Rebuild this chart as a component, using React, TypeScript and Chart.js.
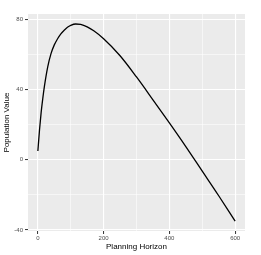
import React, { useEffect, useRef } from "react";
import { Chart, registerables } from "chart.js";

Chart.register(...registerables);

const horizon = [0, 5, 10, 15, 20, 30, 40, 50, 60, 70, 80, 90, 100, 115, 130, 150, 170, 200, 250, 300, 350, 400, 450, 500, 550, 600];
const popValue = [5, 17, 27, 35, 42, 53, 60.5, 65.5, 69, 71.8, 73.8, 75.5, 76.6, 77.4, 77.2, 75.8, 73.5, 69, 59.3, 47.2, 34.2, 21, 7.5, -6.5, -20.5, -35];

const xMajor = [0, 200, 400, 600];
const xMinor = [100, 300, 500];
const yMajor = [-40, 0, 40, 80];
const yMinor = [-20, 20, 60];

const xTitle = "Planning Horizon";
const yTitle = "Population Value";

const panelBg = {
  id: "panelBg",
  beforeDraw(chart: any) {
    const { ctx, chartArea } = chart;
    ctx.save();
    ctx.fillStyle = "#EBEBEB";
    ctx.fillRect(chartArea.left, chartArea.top, chartArea.right - chartArea.left, chartArea.bottom - chartArea.top);
    ctx.restore();
  },
};

function allTicks(major: number[], minor: number[]) {
  return [...major, ...minor].sort((a, b) => a - b).map((v) => ({ value: v }));
}

export default function App() {
  const ref = useRef<HTMLCanvasElement | null>(null);
  useEffect(() => {
    document.body.style.margin = "0";
    const ctx = ref.current!.getContext("2d")!;
    const isMajorX = (v: number) => xMajor.includes(v);
    const isMajorY = (v: number) => yMajor.includes(v);
    const chart = new Chart(ctx, {
      type: "line",
      data: {
        datasets: [
          {
            data: horizon.map((x, i) => ({ x, y: popValue[i] })),
            borderColor: "#000000",
            borderWidth: 1.3,
            pointRadius: 0,
            fill: false,
            cubicInterpolationMode: "monotone",
          },
        ],
      },
      options: {
        animation: false,
        responsive: false,
        plugins: { legend: { display: false }, tooltip: { enabled: false } },
        layout: { padding: { top: 14, right: 16, left: 0, bottom: 0 } },
        scales: {
          x: {
            type: "linear",
            min: -30,
            max: 630,
            afterBuildTicks: (s: any) => {
              s.ticks = allTicks(xMajor, xMinor);
            },
            afterFit: (s: any) => {
              s.height = 24;
            },
            border: { display: false },
            grid: {
              color: "#FFFFFF",
              lineWidth: (c: any) => (isMajorX(c.tick?.value) ? 1.1 : 0.55),
              tickColor: (c: any) => (isMajorX(c.tick?.value) ? "#333333" : "rgba(0,0,0,0)"),
              tickLength: 3,
              tickWidth: 1,
            },
            ticks: {
              autoSkip: false,
              maxRotation: 0,
              padding: 1,
              color: "#4D4D4D",
              font: { family: "Liberation Sans, Arial, sans-serif", size: 6 },
              callback: (v: any) => (isMajorX(v) ? String(v) : ""),
            },
            title: {
              display: true,
              text: xTitle,
              color: "#000000",
              font: { family: "Liberation Sans, Arial, sans-serif", size: 8 },
              padding: { top: 0, bottom: 3 },
            },
          },
          y: {
            type: "linear",
            min: -40.6,
            max: 83.1,
            afterBuildTicks: (s: any) => {
              s.ticks = allTicks(yMajor, yMinor);
            },
            afterFit: (s: any) => {
              s.width = 28;
            },
            border: { display: false },
            grid: {
              color: "#FFFFFF",
              lineWidth: (c: any) => (isMajorY(c.tick?.value) ? 1.1 : 0.55),
              tickColor: (c: any) => (isMajorY(c.tick?.value) ? "#333333" : "rgba(0,0,0,0)"),
              tickLength: 3,
              tickWidth: 1,
            },
            ticks: {
              autoSkip: false,
              padding: 2,
              color: "#4D4D4D",
              font: { family: "Liberation Sans, Arial, sans-serif", size: 6 },
              callback: (v: any) => (isMajorY(v) ? String(v) : ""),
            },
            title: {
              display: true,
              text: yTitle,
              color: "#000000",
              font: { family: "Liberation Sans, Arial, sans-serif", size: 8 },
              padding: { top: 1.5, bottom: 0 },
            },
          },
        },
      },
      plugins: [panelBg],
    } as any);
    return () => chart.destroy();
  }, []);
  return (
    <div style={{ position: "absolute", left: 0, top: 0, width: 261, height: 255, background: "#FFFFFF" }}>
      <canvas ref={ref} width={261} height={255} style={{ width: 261, height: 255, display: "block" }} />
    </div>
  );
}
